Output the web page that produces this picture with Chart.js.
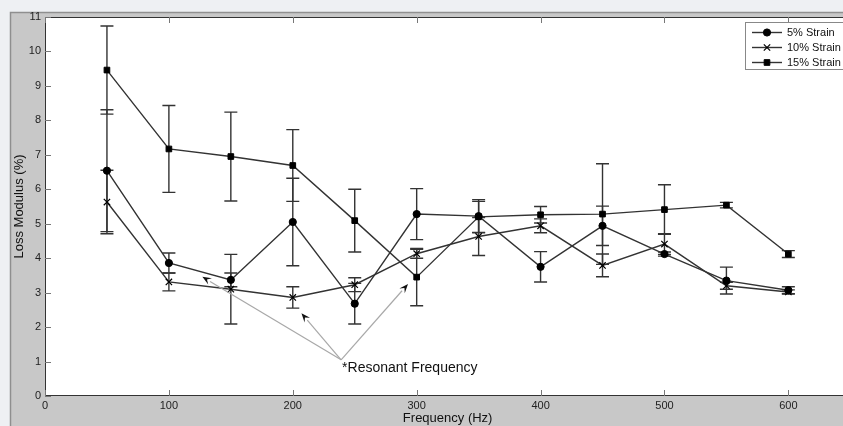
<!DOCTYPE html>
<html>
<head>
<meta charset="utf-8">
<script src="https://cdn.jsdelivr.net/npm/chart.js@4/dist/chart.umd.min.js"></script>
<style>
  html, body { margin: 0; padding: 0; overflow: hidden; background: #eef0f3; }
  #wrap { width: 843px; height: 426px; overflow: hidden; }
  canvas { display: block; }
</style>
</head>
<body>
<div id="wrap"><canvas id="c" width="856" height="426"></canvas></div>
<script>
// ---- data ----
const frequencies = [50, 100, 150, 200, 250, 300, 350, 400, 450, 500, 550, 600];
const strain5 = [6.54, 3.86, 3.37, 5.05, 2.68, 5.28, 5.22, 3.75, 4.94, 4.12, 3.35, 3.07];
const strain5Err = [1.77, 0.29, 0.20, 1.27, 0.59, 0.74, 0.48, 0.44, 0.57, 0.06, 0.39, 0.10];
const strain10 = [5.63, 3.31, 3.10, 2.86, 3.23, 4.13, 4.63, 4.94, 3.79, 4.41, 3.20, 3.02];
const strain10Err = [0.92, 0.26, 1.01, 0.31, 0.20, 0.13, 0.55, 0.20, 0.33, 0.30, 0.10, 0.06];
const strain15 = [9.46, 7.17, 6.95, 6.69, 5.09, 3.45, 5.20, 5.26, 5.28, 5.41, 5.54, 4.12];
const strain15Err = [1.28, 1.26, 1.29, 1.04, 0.91, 0.83, 0.45, 0.24, 1.46, 0.72, 0.08, 0.10];
const seriesLabels = ['5% Strain', '10% Strain', '15% Strain'];
const xTickValues = [0, 100, 200, 300, 400, 500, 600];
const xTitle = 'Frequency (Hz)';
const yTitle = 'Loss Modulus (%)';
const noteText = '*Resonant Frequency';
// annotation anchor (data units) and arrow targets
const noteOrigin = [239, 1.05];
const arrowTargets = [[127, 3.46], [207, 2.40], [293, 3.25]];

const FONT = '"Liberation Sans", Arial, sans-serif';
const LINE = '#333333';

function toPoints(vals) { return frequencies.map((f, i) => ({ x: f, y: vals[i] })); }

const errs = [strain5Err, strain10Err, strain15Err];

const bgPlugin = {
  id: 'bg',
  beforeDraw(chart) {
    const { ctx, width, height, chartArea: a } = chart;
    ctx.save();
    ctx.fillStyle = '#eef0f3';
    ctx.fillRect(0, 0, width, height);
    ctx.fillStyle = '#c8c8c8';
    ctx.fillRect(10, 12, width - 10, height - 12);
    ctx.strokeStyle = '#8f8f8f';
    ctx.lineWidth = 1.5;
    ctx.beginPath();
    ctx.moveTo(10.5, height); ctx.lineTo(10.5, 12.5); ctx.lineTo(width, 12.5);
    ctx.stroke();
    ctx.fillStyle = '#ffffff';
    ctx.fillRect(a.left, a.top, a.right - a.left, a.bottom - a.top);
    ctx.restore();
  }
};

const errPlugin = {
  id: 'errbars',
  beforeDatasetsDraw(chart) {
    const { ctx } = chart;
    const xs = chart.scales.x, ys = chart.scales.y;
    ctx.save();
    ctx.strokeStyle = LINE;
    ctx.lineWidth = 1.4;
    chart.data.datasets.forEach((ds, di) => {
      ds.data.forEach((p, i) => {
        const e = errs[di][i];
        const x = xs.getPixelForValue(p.x);
        const yt = ys.getPixelForValue(p.y + e);
        const yb = ys.getPixelForValue(p.y - e);
        const w = 6.5;
        ctx.beginPath();
        ctx.moveTo(x, yt); ctx.lineTo(x, yb);
        ctx.moveTo(x - w, yt); ctx.lineTo(x + w, yt);
        ctx.moveTo(x - w, yb); ctx.lineTo(x + w, yb);
        ctx.stroke();
      });
    });
    ctx.restore();
  }
};

const decoPlugin = {
  id: 'deco',
  afterDraw(chart) {
    const { ctx, chartArea: a } = chart;
    const xs = chart.scales.x, ys = chart.scales.y;
    ctx.save();
    // axes box
    ctx.strokeStyle = LINE;
    ctx.lineWidth = 1;
    ctx.strokeRect(a.left + 0.5, a.top + 0.5, a.right - a.left - 1, a.bottom - a.top - 1);
    // inward ticks
    ctx.beginPath();
    xs.ticks.forEach(t => {
      const x = Math.round(xs.getPixelForValue(t.value)) + 0.5;
      ctx.moveTo(x, a.bottom); ctx.lineTo(x, a.bottom - 6);
      ctx.moveTo(x, a.top); ctx.lineTo(x, a.top + 6);
    });
    ys.ticks.forEach(t => {
      const y = Math.round(ys.getPixelForValue(t.value)) + 0.5;
      ctx.moveTo(a.left, y); ctx.lineTo(a.left + 6, y);
    });
    ctx.strokeStyle = '#777';
    ctx.stroke();

    // annotation arrows
    const ox = xs.getPixelForValue(noteOrigin[0]);
    const oy = ys.getPixelForValue(noteOrigin[1]);
    arrowTargets.forEach(([tx, ty]) => {
      const px = xs.getPixelForValue(tx), py = ys.getPixelForValue(ty);
      const ang = Math.atan2(py - oy, px - ox);
      const L = 9, W = 3.6;
      const bx = px - L * Math.cos(ang), by = py - L * Math.sin(ang);
      ctx.strokeStyle = '#a8a8a8';
      ctx.lineWidth = 1.2;
      ctx.beginPath(); ctx.moveTo(ox, oy); ctx.lineTo(bx, by); ctx.stroke();
      ctx.fillStyle = '#111';
      ctx.beginPath();
      ctx.moveTo(px, py);
      ctx.lineTo(bx - W * Math.sin(ang), by + W * Math.cos(ang));
      ctx.lineTo(px - 0.6 * L * Math.cos(ang), py - 0.6 * L * Math.sin(ang));
      ctx.lineTo(bx + W * Math.sin(ang), by - W * Math.cos(ang));
      ctx.closePath();
      ctx.fill();
    });
    ctx.fillStyle = '#111';
    ctx.font = '14px ' + FONT;
    ctx.textAlign = 'left';
    ctx.textBaseline = 'middle';
    ctx.fillText(noteText, ox + 1, oy + 8);

    // legend
    const lx = 745, ly = 22, lw = 106, lh = 47;
    ctx.fillStyle = '#ffffff';
    ctx.fillRect(lx, ly, lw, lh);
    ctx.strokeStyle = '#888';
    ctx.lineWidth = 1;
    ctx.strokeRect(lx + 0.5, ly + 0.5, lw, lh);
    chart.data.datasets.forEach((ds, i) => {
      const y = ly + 10.5 + i * 15;
      ctx.strokeStyle = ds.borderColor;
      ctx.lineWidth = ds.borderWidth;
      ctx.beginPath(); ctx.moveTo(752, y); ctx.lineTo(782, y); ctx.stroke();
      ctx.fillStyle = ds.pointBackgroundColor;
      ctx.strokeStyle = ds.pointBorderColor;
      ctx.lineWidth = ds.pointBorderWidth;
      Chart.helpers.drawPoint(ctx, {
        pointStyle: ds.pointStyle, radius: ds.pointRadius, rotation: 0,
        borderWidth: ds.pointBorderWidth
      }, 767, y);
      ctx.fillStyle = '#111';
      ctx.font = '11px ' + FONT;
      ctx.textBaseline = 'middle';
      ctx.fillText(ds.label, 787, y + 0.5);
    });
    ctx.restore();
  }
};

function mkDs(label, vals, style, radius, bw) {
  return {
    label, data: toPoints(vals),
    borderColor: LINE, borderWidth: 1.4,
    pointStyle: style, pointRadius: radius, pointHoverRadius: radius,
    pointBackgroundColor: '#000', pointBorderColor: '#000', pointBorderWidth: bw,
    tension: 0, fill: false
  };
}

new Chart(document.getElementById('c'), {
  type: 'line',
  data: {
    datasets: [
      mkDs(seriesLabels[0], strain5, 'circle', 3.6, 1),
      mkDs(seriesLabels[1], strain10, 'crossRot', 4.5, 1.2),
      mkDs(seriesLabels[2], strain15, 'rect', 4, 1)
    ]
  },
  options: {
    responsive: false,
    devicePixelRatio: 1,
    animation: false,
    events: [],
    layout: { padding: { top: 17, right: 5, left: 0, bottom: 0 } },
    plugins: { legend: { display: false }, tooltip: { enabled: false } },
    scales: {
      x: {
        type: 'linear', min: 0, max: 650,
        afterFit(s) { s.height = 30; },
        afterBuildTicks(s) { s.ticks = xTickValues.map(v => ({ value: v })); },
        ticks: { color: '#222', font: { family: FONT, size: 11 }, padding: 3, maxRotation: 0 },
        grid: { display: false, drawTicks: false },
        border: { display: false },
        title: { display: true, text: xTitle, color: '#111', font: { family: FONT, size: 13 }, padding: { top: 0, bottom: 0 } }
      },
      y: {
        min: 0, max: 11,
        afterFit(s) { s.width = 45; },
        ticks: { stepSize: 1, color: '#222', font: { family: FONT, size: 11 }, padding: 4 },
        grid: { display: false, drawTicks: false },
        border: { display: false },
        title: { display: true, text: yTitle, color: '#111', font: { family: FONT, size: 13 }, padding: { top: 12, bottom: 0 } }
      }
    }
  },
  plugins: [bgPlugin, errPlugin, decoPlugin]
});
</script>
</body>
</html>
